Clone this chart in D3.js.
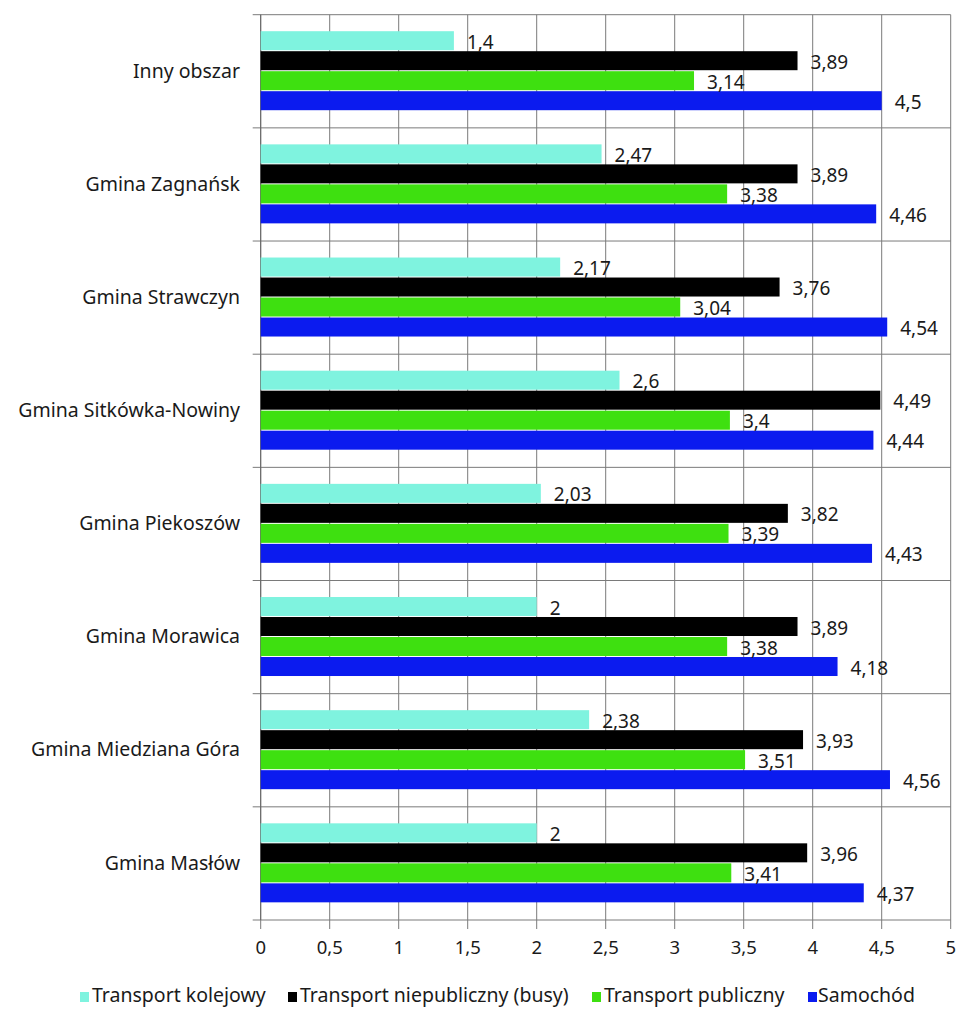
<!DOCTYPE html>
<html><head><meta charset="utf-8">
<script src="https://cdn.jsdelivr.net/npm/d3@7"></script>
<style>body{margin:0;background:#fff}svg{display:block}text{font-family:"Noto Sans","Open Sans",sans-serif;fill:#1a1a1a}</style>
</head><body><svg id="c" width="965" height="1021"></svg>
<script>
const categories = ["Inny obszar","Gmina Zagnańsk","Gmina Strawczyn","Gmina Sitkówka-Nowiny","Gmina Piekoszów","Gmina Morawica","Gmina Miedziana Góra","Gmina Masłów"];
const seriesNames = ["Transport kolejowy","Transport niepubliczny (busy)","Transport publiczny","Samochód"];
const kolejowy    = [1.4, 2.47, 2.17, 2.6, 2.03, 2, 2.38, 2];
const niepubliczny= [3.89, 3.89, 3.76, 4.49, 3.82, 3.89, 3.93, 3.96];
const publiczny   = [3.14, 3.38, 3.04, 3.4, 3.39, 3.38, 3.51, 3.41];
const samochod    = [4.5, 4.46, 4.54, 4.44, 4.43, 4.18, 4.56, 4.37];
const xTicks = [0,0.5,1,1.5,2,2.5,3,3.5,4,4.5,5];
const colors = ["#7ff3df","#000000","#3ee010","#0b1bef"];

const seriesValues = [kolejowy, niepubliczny, publiczny, samochod];
const svg = d3.select("#c");
const L = 260.7, R = 950.7, T = 14.7, B = 920;
const x = d3.scaleLinear().domain([0,5]).range([L,R]);
const y0 = d3.scaleBand().domain(categories).range([T,B]);
const y1 = d3.scaleBand().domain(seriesNames).range([16,96]);
const fmt = v => String(v).replace(".", ",");

svg.append("g").selectAll("line").data(xTicks).join("line")
  .attr("x1", d=>x(d)).attr("x2", d=>x(d)).attr("y1", T).attr("y2", B+9)
  .attr("stroke","#7a7a7a").attr("stroke-width",1);
const seps = categories.map(c=>y0(c)).concat([B]);
svg.append("g").selectAll("line").data(seps).join("line")
  .attr("x1", L-8).attr("x2", R).attr("y1", d=>d).attr("y2", d=>d)
  .attr("stroke","#7a7a7a").attr("stroke-width",1);
svg.append("line").attr("x1",L).attr("x2",L).attr("y1",T).attr("y2",B).attr("stroke","#666");

const rows = [];
categories.forEach((c,i)=>seriesNames.forEach((s,j)=>rows.push({c,s,j,v:seriesValues[j][i]})));
svg.append("g").selectAll("rect").data(rows).join("rect")
  .attr("x", L).attr("y", d=>y0(d.c)+y1(d.s)+0.5)
  .attr("width", d=>x(d.v)-L).attr("height", y1.bandwidth()-1)
  .attr("fill", d=>colors[d.j]);
svg.append("g").selectAll("text").data(rows).join("text")
  .attr("x", d=>x(d.v)+13).attr("y", d=>y0(d.c)+y1(d.s)+y1.bandwidth()/2+3)
  .attr("dominant-baseline","middle").attr("font-size",19)
  .text(d=>fmt(d.v));

svg.append("g").selectAll("text").data(categories).join("text")
  .attr("x", 240).attr("y", d=>y0(d)+y0.bandwidth()/2+1)
  .attr("text-anchor","end").attr("dominant-baseline","middle").attr("font-size",19.5)
  .text(d=>d);

svg.append("g").selectAll("text").data(xTicks).join("text")
  .attr("x", d=>x(d)).attr("y", 949).attr("text-anchor","middle")
  .attr("dominant-baseline","middle").attr("font-size",18.5).text(d=>fmt(d));

const legX = [80, 288, 592, 808];
const lg = svg.append("g").selectAll("g").data(seriesNames).join("g")
  .attr("transform",(d,i)=>`translate(${legX[i]},997)`);
lg.append("rect").attr("x",0).attr("y",-5).attr("width",9).attr("height",10).attr("fill",(d,i)=>colors[i]);
lg.append("text").attr("x",(d,i)=> i===3 ? 10 : 12).attr("y",0).attr("dominant-baseline","middle")
  .attr("font-size",19.5).text(d=>d);
</script></body></html>
